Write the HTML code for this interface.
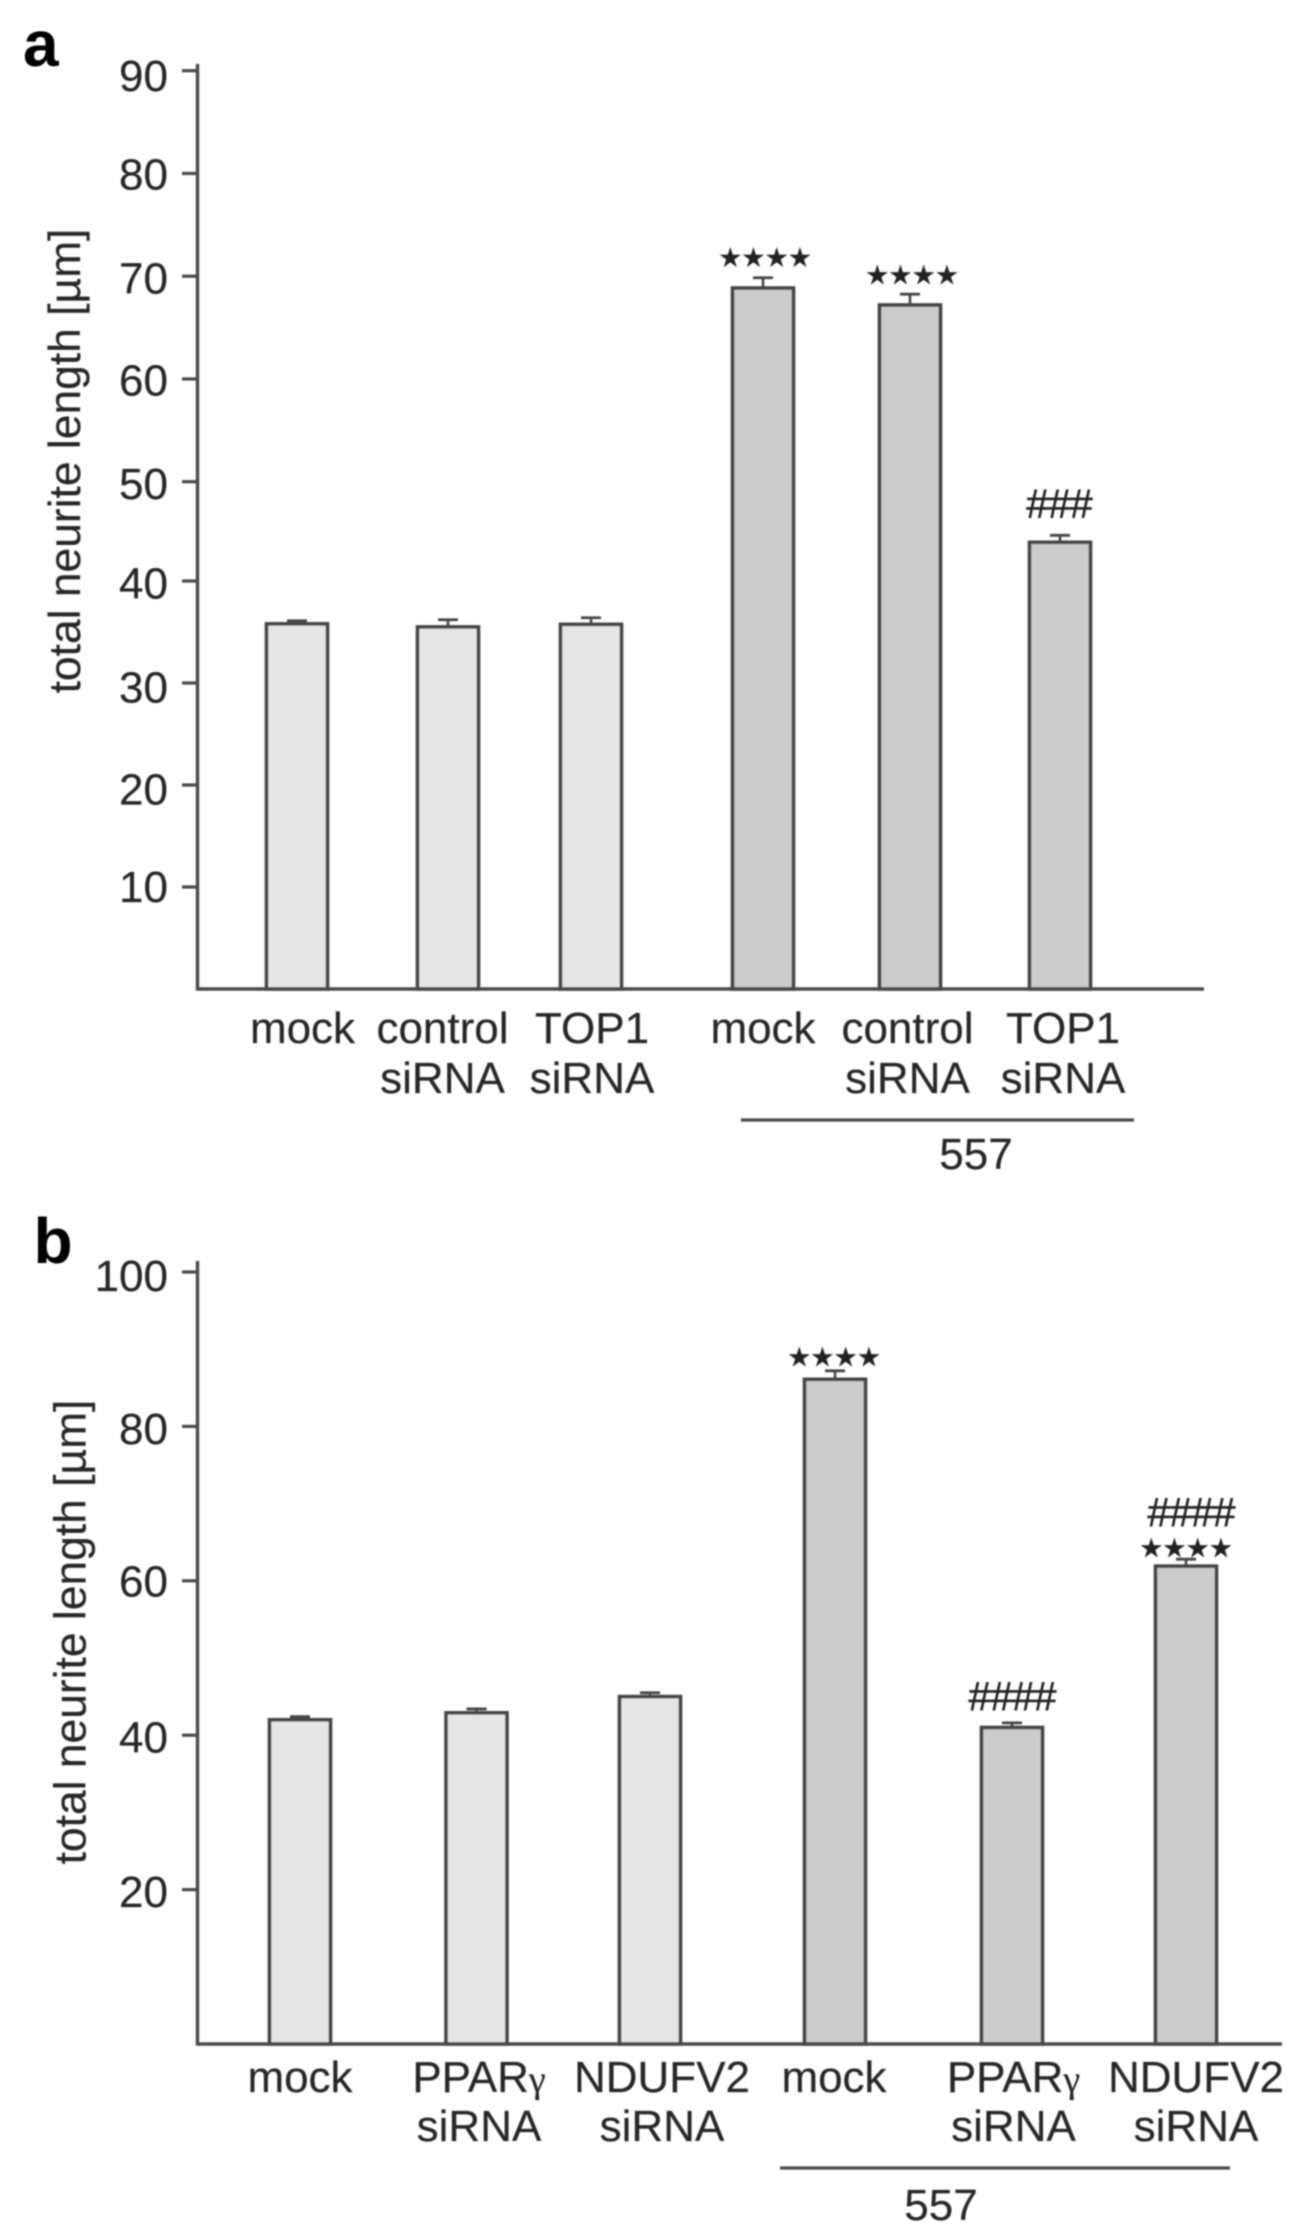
<!DOCTYPE html>
<html lang="en">
<head>
<meta charset="utf-8">
<title>Total neurite length bar charts</title>
<style>
html,body{margin:0;padding:0;background:#fff;}
svg{display:block;}
text{font-family:"Liberation Sans",Arial,sans-serif;fill:#262626;stroke:#262626;stroke-width:0.2px;}
</style>
</head>
<body>
<svg id="figure" xmlns="http://www.w3.org/2000/svg" width="1306" height="2240" viewBox="0 0 1306 2240">
<defs><filter id="soft" x="-2%" y="-2%" width="104%" height="104%"><feGaussianBlur stdDeviation="0.75"/></filter></defs>
<rect width="1306" height="2240" fill="#fff"/>
<g id="root" filter="url(#soft)"></g>
</svg>
<script>
// Panel a data
const labelsTopA = ['mock', 'control', 'TOP1', 'mock', 'control', 'TOP1'];
const labelsBottomA = ['', 'siRNA', 'siRNA', '', 'siRNA', 'siRNA'];
const valuesA = [35.8, 35.5, 35.75, 68.85, 67.2, 43.9];
const errorsA = [0.3, 0.7, 0.65, 1.0, 1.05, 0.7];
const ticksA = [10, 20, 30, 40, 50, 60, 70, 80, 90];

// Panel b data
const labelsTopB = ['mock', 'PPARγ', 'NDUFV2', 'mock', 'PPARγ', 'NDUFV2'];
const labelsBottomB = ['', 'siRNA', 'siRNA', '', 'siRNA', 'siRNA'];
const valuesB = [42.0, 42.9, 45.0, 86.1, 41.0, 61.9];
const errorsB = [0.4, 0.5, 0.5, 1.1, 0.6, 0.9];
const ticksB = [20, 40, 60, 80, 100];

const NS = 'http://www.w3.org/2000/svg';
const root = document.getElementById('root');
const INK = '#444';

function make(parent, tag, attrs) {
  const el = document.createElementNS(NS, tag);
  for (const k in attrs) el.setAttribute(k, attrs[k]);
  parent.appendChild(el);
  return el;
}

function drawPanel(cfg) {
  const panel = make(root, 'g', {});
  
  

  const letter = make(panel, 'text', {x: cfg.letterX, y: cfg.letterY, 'font-size': 64, 'font-weight': 'bold', style: 'fill:#000;stroke:none'});
  letter.textContent = cfg.id;
  
  

  // bars first so the axis overlays their feet
  cfg.values.forEach(function (v, i) {
    const cx = cfg.x(i);
    const yTop = cfg.y(v);
    const yErr = cfg.y(v + cfg.errors[i]);
    const bar = make(panel, 'rect', {
      x: cx - 30.5, y: yTop, width: 61, height: cfg.y(0) - yTop,
      fill: i < 3 ? '#e5e5e5' : '#cbcbcb', stroke: INK, 'stroke-width': 3.6
    });
    
    

    const stem = make(panel, 'line', {x1: cx, x2: cx, y1: yTop, y2: yErr, stroke: INK, 'stroke-width': 2.6});
    
    

    const cap = make(panel, 'line', {x1: cx - 10, x2: cx + 10, y1: yErr, y2: yErr, stroke: INK, 'stroke-width': 2.8});
    
    
  });

  // axes
  const yAxis = make(panel, 'line', {x1: 197.5, x2: 197.5, y1: cfg.axisTop, y2: cfg.y(0) + 1.5, stroke: '#4a4a4a', 'stroke-width': 3.4});
  
  

  const xAxis = make(panel, 'line', {x1: 196, x2: cfg.axisRight, y1: cfg.y(0), y2: cfg.y(0), stroke: '#4a4a4a', 'stroke-width': 3.4});
  
  

  cfg.ticks.forEach(function (t) {
    const py = cfg.y(t);
    const tick = make(panel, 'line', {x1: 182, x2: 197.5, y1: py, y2: py, stroke: '#4a4a4a', 'stroke-width': 3.2});
    
    

    const lab = make(panel, 'text', {x: 168, y: py + 17.5 + cfg.tickLabelShift(t), 'font-size': 44, 'text-anchor': 'end'});
    lab.textContent = String(t);
    
    
  });

  const title = make(panel, 'text', {
    x: 0, y: 0, 'font-size': 44.4, 'text-anchor': 'middle',
    transform: 'translate(' + cfg.titleX + ' ' + cfg.titleY + ') rotate(-90)'
  });
  title.textContent = 'total neurite length [µm]';
  
  

  // category labels
  cfg.labelsTop.forEach(function (name, i) {
    const cx = cfg.x(i) + cfg.labelShift(i);
    const top = make(panel, 'text', {x: cx, y: cfg.labelY1, 'font-size': 44, 'text-anchor': 'middle'});
    if (name.indexOf('γ') >= 0) {
      top.appendChild(document.createTextNode(name.replace('γ', '')));
      const g = make(top, 'tspan', {'font-size': 38, style: 'font-family:"Liberation Serif",serif'});
      g.textContent = 'γ';
    } else {
      top.textContent = name;
    }
    
    

    if (cfg.labelsBottom[i]) {
      const bottom = make(panel, 'text', {x: cx, y: cfg.labelY2, 'font-size': 44, 'text-anchor': 'middle'});
      bottom.textContent = cfg.labelsBottom[i];
      
      
    }
  });

  // treatment bracket
  const rule = make(panel, 'line', {x1: cfg.ruleX1, x2: cfg.ruleX2, y1: cfg.ruleY, y2: cfg.ruleY, stroke: '#4a4a4a', 'stroke-width': 3.2});
  
  

  const treat = make(panel, 'text', {x: cfg.treatX, y: cfg.treatY, 'font-size': 44, 'text-anchor': 'middle'});
  treat.textContent = '557';
  
  

  return panel;
}

// significance marks are placed relative to the error bar they annotate
function stars(panel, cfg, i, gap, shift) {
  const yErr = cfg.y(cfg.values[i] + cfg.errors[i]);
  const t = make(panel, 'text', {
    x: cfg.x(i) + shift, y: yErr - gap + 2, 'font-size': 26, 'letter-spacing': -0.1,
    'text-anchor': 'middle', style: 'font-family:"DejaVu Sans",sans-serif;fill:#222;stroke:#222;stroke-width:0.4px'
  });
  t.textContent = '★★★★';
  
  
}

function hashes(panel, cfg, i, gap, shift, text) {
  const yErr = cfg.y(cfg.values[i] + cfg.errors[i]);
  const t = make(panel, 'text', {
    x: cfg.x(i) + shift, y: yErr - gap, 'font-size': 41, 'letter-spacing': -1,
    'text-anchor': 'middle', style: 'fill:#222;stroke:#222;stroke-width:0.5px'
  });
  t.textContent = text;
  
  
}

const panelA = {
  id: 'a', values: valuesA, errors: errorsA, ticks: ticksA,
  labelsTop: labelsTopA, labelsBottom: labelsBottomA,
  x: function (i) { return 297 + 147 * i + (i >= 3 ? 25 : 0) + (i === 1 ? 4 : 0) + (i === 5 ? 3 : 0); },
  // the printed axis is very slightly uneven: three linear stretches
  y: function (v) {
    if (v <= 40) return 989 - v * 10.2;
    if (v <= 50) return 581 - (v - 40) * 9.93;
    return 481.7 - (v - 50) * 10.275;
  },
  labelShift: function (i) { return i === 0 ? 5.5 : i === 1 ? -5.5 : i === 2 ? 1 : i === 3 ? 0 : i === 4 ? -2.5 : 3; },
  tickLabelShift: function (t) { return t === 90 ? 3 : t === 80 ? -1.5 : t === 60 ? -1 : t === 30 || t === 20 ? 2 : t === 10 ? -2.5 : 0; },
  axisTop: 64, axisRight: 1204, letterX: 23, letterY: 66,
  titleX: 80, titleY: 461, labelY1: 1043, labelY2: 1093,
  ruleX1: 741, ruleX2: 1134, ruleY: 1120, treatX: 976, treatY: 1169
};

const panelB = {
  id: 'b', values: valuesB, errors: errorsB, ticks: ticksB,
  labelsTop: labelsTopB, labelsBottom: labelsBottomB,
  x: function (i) { return 300 + 175 * i + (i >= 3 ? 10 : 0) + (i === 1 ? 1.5 : 0) + (i === 4 ? 2 : 0) + (i === 5 ? 1 : 0); },
  y: function (v) { return 2044 - v * 7.72; },
  labelShift: function (i) { return i === 1 ? 2.5 : i === 2 ? 12 : i === 3 ? -1 : i === 4 ? 1.5 : i === 5 ? 10 : 0; },
  tickLabelShift: function (t) { return t === 100 ? 1.5 : t === 60 ? -2 : 0; },
  axisTop: 1261, axisRight: 1282, letterX: 33.5, letterY: 1263,
  titleX: 85.5, titleY: 1632, labelY1: 2092, labelY2: 2141,
  ruleX1: 780, ruleX2: 1230, ruleY: 2168, treatX: 941, treatY: 2220
};

const gA = drawPanel(panelA);
stars(gA, panelA, 3, 13, 2);
stars(gA, panelA, 4, 12, 2);
hashes(gA, panelA, 5, 18, -1, '###');

const gB = drawPanel(panelB);
stars(gB, panelB, 3, 7, -1);
hashes(gB, panelB, 4, 13, 0, '####');
stars(gB, panelB, 5, 4, 0);
hashes(gB, panelB, 5, 33, 5, '####');
</script>
</body>
</html>
